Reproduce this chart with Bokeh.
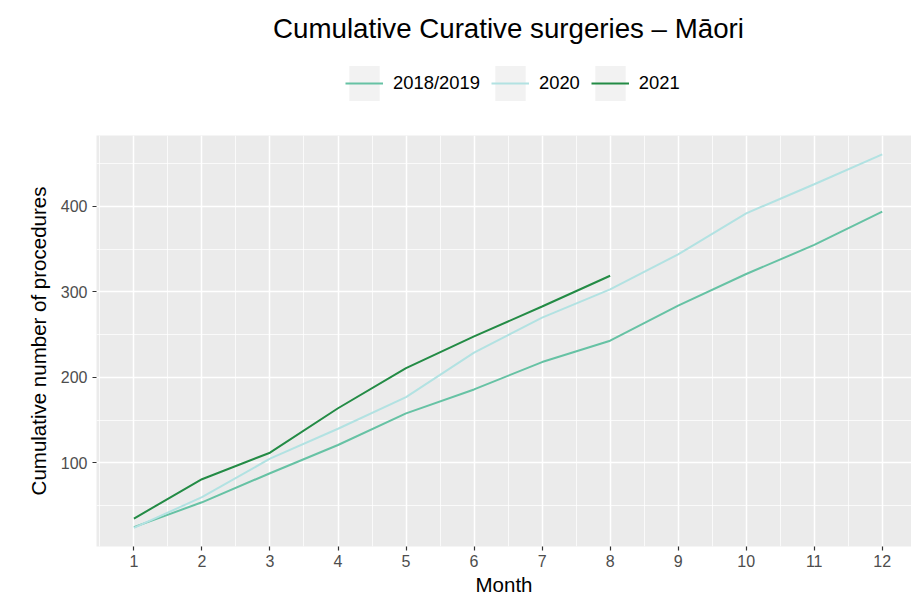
from bokeh.plotting import figure
from bokeh.layouts import column
from bokeh.models import (Range1d, FixedTicker, Legend, LegendItem, Label,
                          ColumnDataSource)
from bokeh.embed import file_html
from bokeh.resources import INLINE

# ---- data ----
months = [1, 2, 3, 4, 5, 6, 7, 8, 9, 10, 11, 12]
months_2021 = [1, 2, 3, 4, 5, 6, 7, 8]
series_names = ["2018/2019", "2020", "2021"]
vals_2018_2019 = [25, 54, 88, 121, 158, 186, 218, 243, 284, 321, 355, 394]
vals_2020 = [24, 60, 105, 140, 177, 229, 270, 303, 344, 392, 426, 461]
vals_2021 = [35, 81, 112, 164, 211, 248, 283, 319]
y_ticks = [100, 200, 300, 400]
y_minor = [50, 150, 250, 350, 450]
colors = ["#66c2a4", "#b2e2e2", "#238b45"]
title_text = "Cumulative Curative surgeries \u2013 M\u0101ori"
x_label = "Month"
y_label = "Cumulative number of procedures"

FONT = "Liberation Sans"
W = 911
HEAD_H = 135
MAIN_H = 466

series = [(months, vals_2018_2019), (months, vals_2020), (months_2021, vals_2021)]

# ---------------- main plot ----------------
p = figure(width=W, height=MAIN_H, output_backend="svg", toolbar_location=None,
           x_range=Range1d(0.45, 12.43), y_range=Range1d(2.3, 483),
           min_border_left=96, min_border_right=0, min_border_bottom=55,
           min_border_top=0)

p.background_fill_color = "#ebebeb"
p.border_fill_color = "white"
p.outline_line_color = None

xt = FixedTicker(ticks=months, minor_ticks=[m - 0.5 for m in months] + [months[-1] + 0.5])
yt = FixedTicker(ticks=y_ticks, minor_ticks=y_minor)
p.xaxis.ticker = xt
p.yaxis.ticker = yt
p.xgrid.ticker = xt
p.ygrid.ticker = yt
for g in (p.xgrid, p.ygrid):
    g.grid_line_color = "white"
    g.grid_line_width = 1.5
    g.minor_grid_line_color = "white"
    g.minor_grid_line_width = 0.75

for ax in (p.xaxis, p.yaxis):
    ax.axis_line_color = None
    ax.major_tick_line_color = "#333333"
    ax.major_tick_line_width = 1.2
    ax.major_tick_out = 4
    ax.major_tick_in = 0
    ax.minor_tick_line_color = None
    ax.major_label_text_color = "#4d4d4d"
    ax.major_label_text_font = FONT
    ax.major_label_text_font_size = "16px"
    ax.axis_label_text_font = FONT
    ax.axis_label_text_font_size = "20.5px"
    ax.axis_label_text_font_style = "normal"
    ax.axis_label_text_color = "black"

p.xaxis.major_label_standoff = 4
p.xaxis.axis_label_standoff = 3
p.yaxis.major_label_standoff = 5
p.yaxis.axis_label_standoff = 8

p.xaxis.axis_label = x_label
p.yaxis.axis_label = y_label

for (xs, ys), c in zip(series, colors):
    p.line(xs, ys, line_color=c, line_width=2)

# ---------------- header: title + legend ----------------
h = figure(width=W, height=HEAD_H, output_backend="svg", toolbar_location=None,
           x_range=Range1d(0, 1), y_range=Range1d(0, 1),
           x_axis_type=None, y_axis_type=None,
           min_border=0, min_border_left=0, min_border_right=0,
           min_border_top=0, min_border_bottom=0)
h.grid.visible = False
h.outline_line_color = None
h.background_fill_color = "white"
h.border_fill_color = "white"

# hidden renderers, used only so that the legend can draw its keys
bg_src = ColumnDataSource(data=dict(x=months, y=vals_2018_2019))
bg = h.rect(x="x", y="y", width=0, height=0, source=bg_src,
            fill_color="#f2f2f2", line_color=None, visible=False)
key_renderers = []
for (xs, ys), c in zip(series, colors):
    key_renderers.append(h.line(xs, ys, line_color=c, line_width=2, visible=False))

items = [LegendItem(label=series_names[i], renderers=[bg, r])
         for i, r in enumerate(key_renderers)]
legend = Legend(items=items, orientation="horizontal", location=(249, 30.5),
                glyph_width=38, glyph_height=44, label_text_font=FONT,
                label_text_font_size="18.4px", label_text_color="black",
                label_standoff=10, spacing=11, padding=0, margin=0,
                border_line_alpha=0, background_fill_alpha=0,
                inactive_fill_alpha=0)
h.add_layout(legend, "center")

title = Label(x=412, y=HEAD_H - 28, x_units="screen", y_units="screen",
              text=title_text, text_align="center", text_baseline="alphabetic",
              text_font=FONT, text_font_size="27.7px", text_color="black")
h.add_layout(title)

layout = column(h, p, spacing=0)
open("out.html", "w").write(file_html(layout, INLINE))
